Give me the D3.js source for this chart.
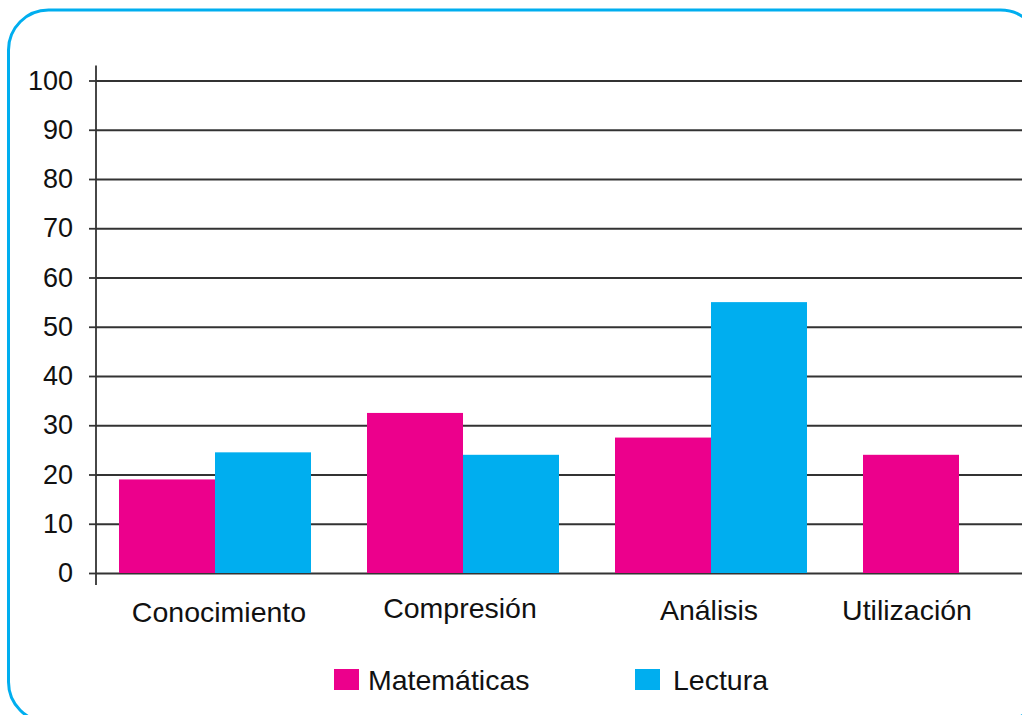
<!DOCTYPE html>
<html>
<head>
<meta charset="utf-8">
<script src="https://cdn.jsdelivr.net/npm/d3@7/dist/d3.min.js"></script>
<style>
  html, body { margin: 0; padding: 0; background: #fff; }
  svg { display: block; font-family: "Liberation Sans", Arial, sans-serif; }
</style>
</head>
<body>
<svg id="chart" width="1022" height="715"></svg>
<script>
const categories = ['Conocimiento', 'Compresión', 'Análisis', 'Utilización'];
const seriesNames = ['Matemáticas', 'Lectura'];
const matematicas = [19, 32.5, 27.5, 24];
const lectura = [24.5, 24, 55, null];
const yTicks = [0, 10, 20, 30, 40, 50, 60, 70, 80, 90, 100];

const colors = ['#ec008c', '#00aeef'];
const lineColor = '#333';

// label nudges (px) so the category names sit where the original put them
const labelDx = [4, -3, -2, -52];
const labelBaseline = [622, 618, 620, 620];

const width = 1022, height = 715;
const axisX = 96;

const svg = d3.select('#chart');

// rounded frame, runs off the right and bottom edges like the original
svg.append('rect')
    .attr('x', 8.5).attr('y', 10)
    .attr('width', 1032).attr('height', 712)
    .attr('rx', 40).attr('ry', 40)
    .attr('fill', 'none')
    .attr('stroke', '#00aeef')
    .attr('stroke-width', 3);

const y = d3.scaleLinear().domain([0, 100]).range([573, 80.5]);

const x = d3.scaleBand()
    .domain(categories)
    .range([91, 1083])
    .paddingInner(56 / 248)
    .paddingOuter(28 / 248);

const xSub = d3.scaleBand()
    .domain(seriesNames)
    .range([0, x.bandwidth()]);

// gridlines
svg.append('g')
    .attr('transform', `translate(${axisX},0)`)
    .call(d3.axisRight(y).tickValues(yTicks).tickSize(width - axisX).tickFormat(''))
    .call(g => g.select('.domain').remove())
    .selectAll('line')
    .attr('stroke', lineColor)
    .attr('stroke-width', 1.8);

// left ticks + labels
svg.append('g')
    .attr('transform', `translate(${axisX},0)`)
    .call(d3.axisLeft(y).tickValues(yTicks).tickSize(7).tickPadding(16).tickFormat(d3.format('d')))
    .call(g => g.select('.domain').remove())
    .call(g => g.selectAll('line').attr('stroke', lineColor).attr('stroke-width', 1.8))
    .selectAll('text')
    .attr('fill', '#111')
    .attr('font-size', '27px')
    .attr('font-family', '"Liberation Sans", Arial, sans-serif');

// vertical axis line
svg.append('line')
    .attr('x1', axisX).attr('x2', axisX)
    .attr('y1', y(100) - 15).attr('y2', y(0) + 12)
    .attr('stroke', lineColor)
    .attr('stroke-width', 1.8);

// bars
const rows = categories.map((c, i) => ({ cat: c, values: [matematicas[i], lectura[i]] }));

const groups = svg.selectAll('.grp')
    .data(rows)
    .join('g')
    .attr('class', 'grp')
    .attr('transform', d => `translate(${x(d.cat)},0)`);

groups.selectAll('rect')
    .data(d => d.values.map((v, j) => ({ name: seriesNames[j], v, j })).filter(e => e.v != null))
    .join('rect')
    .attr('x', d => xSub(d.name))
    .attr('width', xSub.bandwidth())
    .attr('y', d => y(d.v))
    .attr('height', d => y(0) - y(d.v))
    .attr('fill', d => colors[d.j]);

// category labels
svg.selectAll('.cat-label')
    .data(categories)
    .join('text')
    .attr('class', 'cat-label')
    .attr('x', (d, i) => x(d) + x.bandwidth() / 2 + labelDx[i])
    .attr('y', (d, i) => labelBaseline[i])
    .attr('text-anchor', 'middle')
    .attr('font-size', '28.5px')
    .attr('fill', '#111')
    .text(d => d);

// legend
const legendX = [334, 635];
const legend = svg.selectAll('.legend')
    .data(seriesNames)
    .join('g')
    .attr('class', 'legend')
    .attr('transform', (d, i) => `translate(${legendX[i]},669)`);

legend.append('rect')
    .attr('width', 25).attr('height', 21)
    .attr('fill', (d, i) => colors[i]);

legend.append('text')
    .attr('x', (d, i) => i === 0 ? 34 : 38)
    .attr('y', 21)
    .attr('font-size', '28.5px')
    .attr('fill', '#111')
    .text(d => d);
</script>
</body>
</html>
